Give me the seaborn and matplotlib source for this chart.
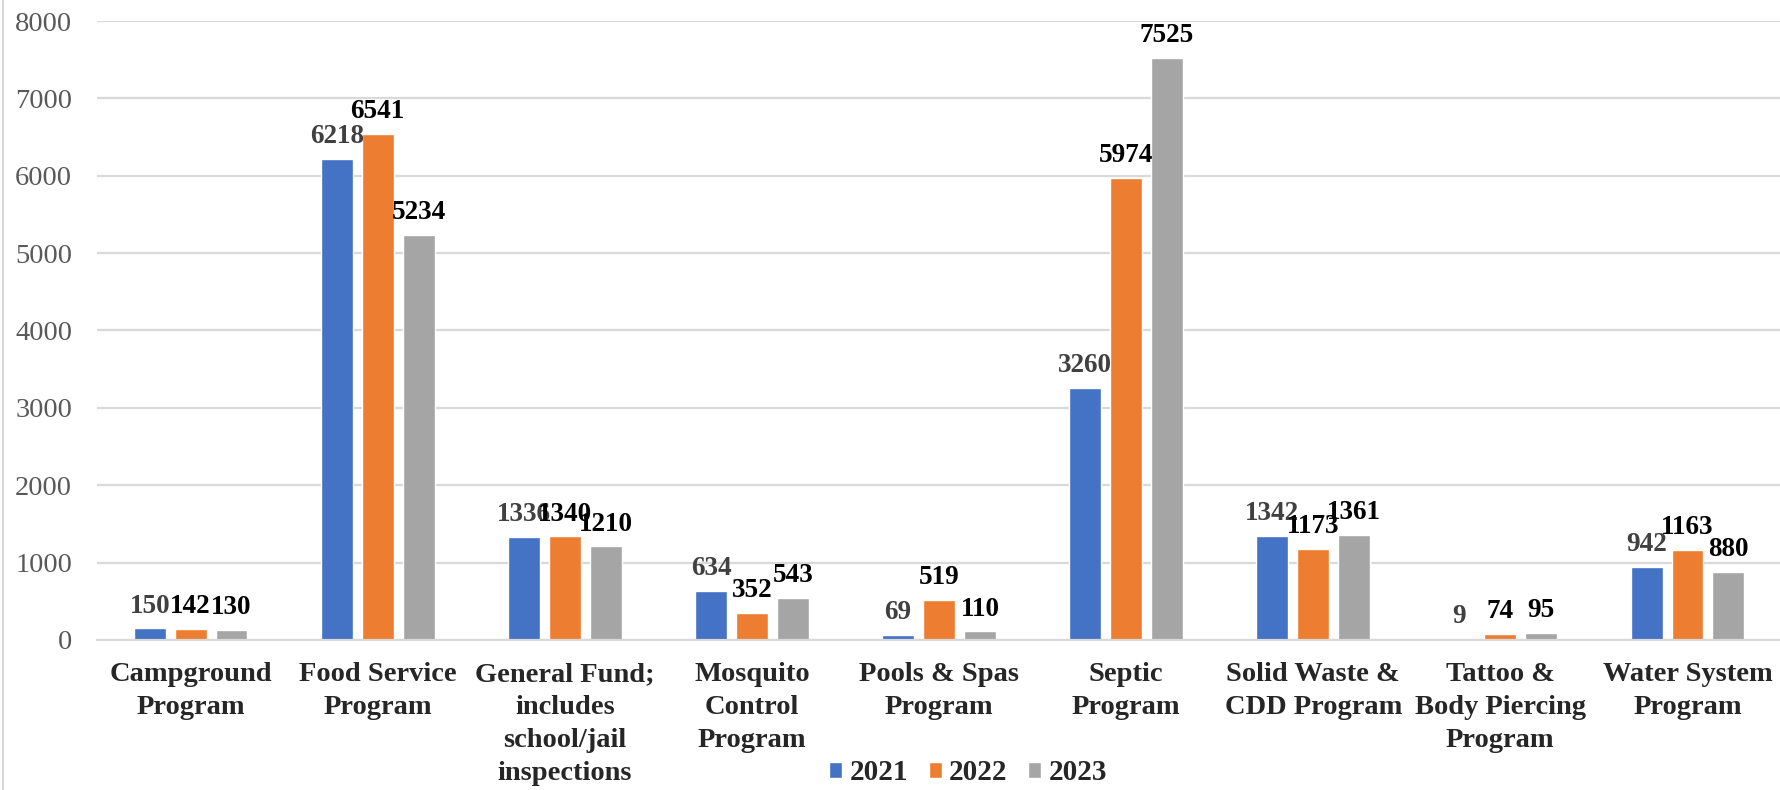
import pandas as pd
import matplotlib.pyplot as plt
import seaborn as sns
from matplotlib.lines import Line2D
from matplotlib.patches import Patch

# Categories and yearly counts
programs = ['Campground\nProgram', 'Food Service\nProgram',
            'General Fund;\nincludes\nschool/jail\ninspections',
            'Mosquito\nControl\nProgram', 'Pools & Spas\nProgram',
            'Septic\nProgram', 'Solid Waste &\nCDD Program',
            'Tattoo &\nBody Piercing\nProgram', 'Water System\nProgram']
years = ['2021', '2022', '2023']
v2021 = [150, 6218, 1336, 634, 69, 3260, 1342, 9, 942]
v2022 = [142, 6541, 1340, 352, 519, 5974, 1173, 74, 1163]
v2023 = [130, 5234, 1210, 543, 110, 7525, 1361, 95, 880]
colors = ['#4472C4', '#ED7D31', '#A5A5A5']
label_colors = ['#404040', '#000000', '#000000']

df = pd.DataFrame({'Program': programs * 3,
                   'Year': [y for y in years for _ in programs],
                   'Count': v2021 + v2022 + v2023})

sns.set_style('white')
plt.rcParams['font.family'] = ['Liberation Serif', 'DejaVu Serif']

fig = plt.figure(figsize=(17.81, 7.90), dpi=100)
ax = fig.add_axes([0.0545, 0.19, 0.9455, 0.7834])

sns.barplot(data=df, x='Program', y='Count', hue='Year', palette=colors,
            width=0.655, gap=0.22, saturation=1, legend=False, ax=ax)

for cont, col in zip(ax.containers, label_colors):
    ax.bar_label(cont, fmt='%d', padding=7, fontsize=19.5,
                 fontweight='bold', color=col)

ax.set_ylim(0, 8000)
ax.set_yticks(range(0, 8001, 1000))
ax.grid(axis='y', color='#d9d9d9', linewidth=1.6)
ax.set_axisbelow(True)
for s in ['top', 'right', 'left']:
    ax.spines[s].set_visible(False)
ax.spines['bottom'].set_color('#d9d9d9')
ax.spines['bottom'].set_linewidth(1.6)
ax.set_xlabel('')
ax.set_ylabel('')
ax.tick_params(axis='y', labelsize=20.5, labelcolor='#595959', length=0, pad=18)
ax.tick_params(axis='x', labelsize=20.5, length=0, pad=16)
for t in ax.get_xticklabels():
    t.set_fontweight('bold')
    t.set_linespacing(1.42)

handles = [Patch(facecolor=c) for c in colors]
fig.legend(handles, years, loc='center', bbox_to_anchor=(0.5435, 0.022),
           ncol=3, frameon=False, prop={'size': 21, 'weight': 'bold'},
           handlelength=0.45, handleheight=0.45, handletextpad=0.25,
           columnspacing=0.7)

# light border on the left like the original chart frame
fig.add_artist(Line2D([0.0018, 0.0018], [0, 1], color='#d9d9d9', linewidth=1.5))

fig.savefig('out.png', dpi=100)
